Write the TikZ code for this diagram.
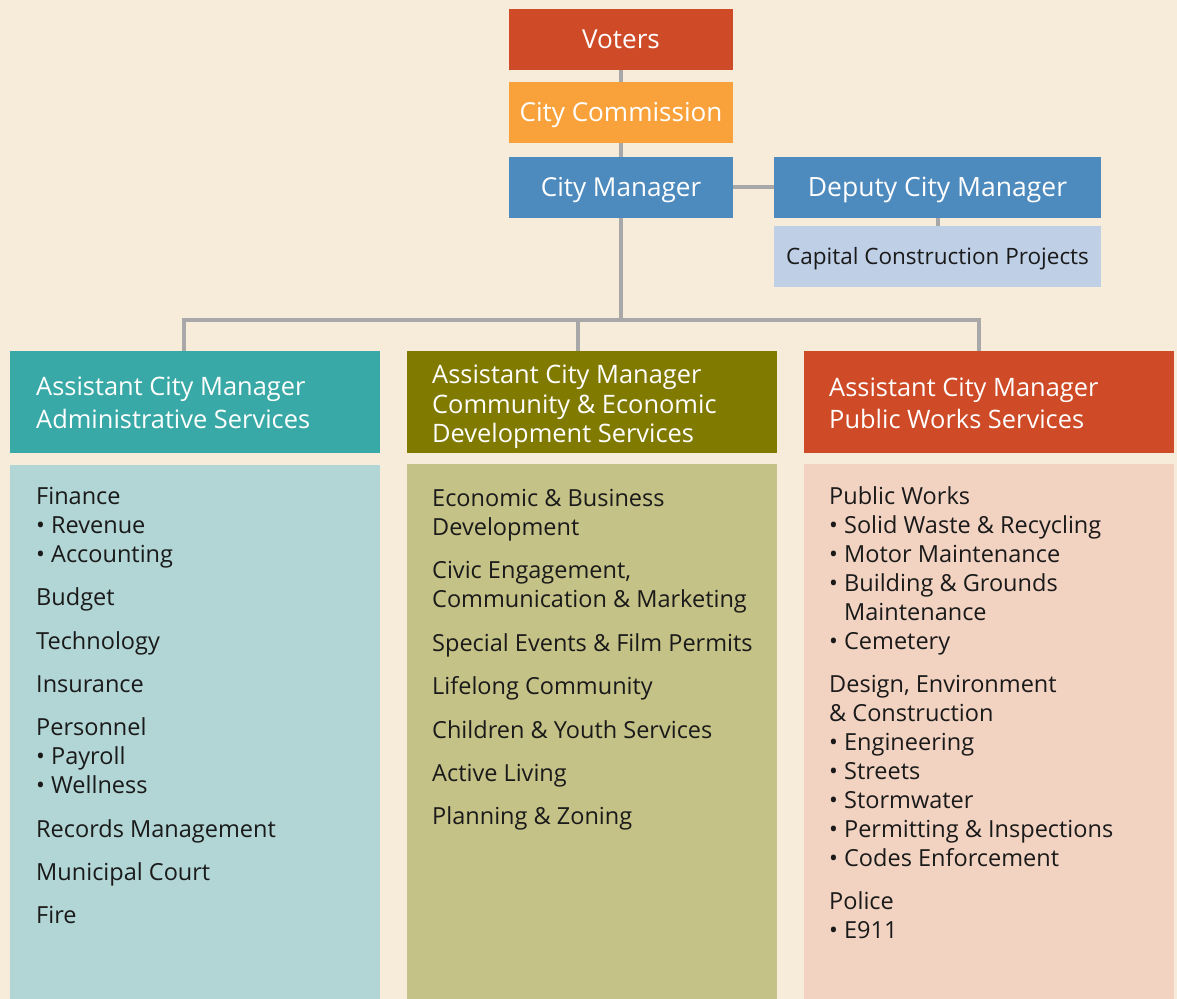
\documentclass[tikz,border=0pt]{standalone}
\usepackage{fontspec}
\setmainfont{Open Sans}
\definecolor{bgc}{HTML}{F6ECD9}
\definecolor{cred}{HTML}{CF4A27}
\definecolor{corange}{HTML}{F9A23B}
\definecolor{cblue}{HTML}{4D8ABE}
\definecolor{clblue}{HTML}{BFCFE6}
\definecolor{cteal}{HTML}{38A9A6}
\definecolor{clteal}{HTML}{B2D5D5}
\definecolor{colive}{HTML}{817A00}
\definecolor{clolive}{HTML}{C5C287}
\definecolor{cpeach}{HTML}{F2D3C2}
\definecolor{cline}{HTML}{A8A8A8}
\definecolor{ctext}{HTML}{1A1A1A}
\begin{document}
\begin{tikzpicture}[x=1bp,y=-1bp,
  topbox/.style={rectangle, inner sep=0pt, outer sep=0pt, minimum width=224bp, minimum height=61bp, text=white, text height=18.7bp, text depth=0pt, font=\fontsize{26.2}{30}\selectfont},
  headbox/.style={rectangle, inner sep=0pt, outer sep=0pt, minimum width=370bp, minimum height=102bp},
  headtext/.style={anchor=base west, inner sep=0pt, text=white, font=\fontsize{25.5}{30}\selectfont},
  bodybox/.style={rectangle, inner sep=0pt, outer sep=0pt, minimum width=370bp},
  item/.style={anchor=base west, inner sep=0pt, text=ctext, font=\fontsize{23.6}{29}\selectfont},
  conn/.style={draw=cline, line width=4bp}]
\fill[bgc] (0,0) rectangle (1177,999);
\useasboundingbox (0,0) rectangle (1177,999);

% top chain
\node[topbox, fill=cred] (voters) at (621,39.5) {Voters};
\node[topbox, fill=corange] (comm) at (621,112.5) {City Commission};
\node[topbox, fill=cblue] (cm) at (621,187) {City Manager};
\node[topbox, fill=cblue, minimum width=327bp, font=\fontsize{26.6}{30}\selectfont] (dcm) at (937.5,187) {Deputy City Manager};
\node[topbox, fill=clblue, minimum width=327bp, text=ctext, text height=16.2bp, font=\fontsize{22.6}{26}\selectfont] (ccp) at (937.5,256.5) {Capital Construction Projects};

% headings
\node[headbox, fill=cteal] (h1) at (195,402) {};
\node[headbox, fill=colive] (h2) at (592,402) {};
\node[headbox, fill=cred] (h3) at (989,402) {};
\node[headtext] (h1a) at (36,395) {Assistant City Manager};
\node[headtext] (h1b) at (36,428) {Administrative Services};
\node[headtext] (h2a) at (432,383) {Assistant City Manager};
\node[headtext] (h2b) at (432,413) {Community \& Economic};
\node[headtext] (h2c) at (432,442) {Development Services};
\node[headtext] (h3a) at (829,396) {Assistant City Manager};
\node[headtext] (h3b) at (829,428) {Public Works Services};

% bodies
\node[bodybox, fill=clteal, minimum height=534bp] (b1) at (195,732) {};
\node[bodybox, fill=clolive, minimum height=535bp] (b2) at (592,731.5) {};
\node[bodybox, fill=cpeach, minimum height=535bp] (b3) at (989,731.5) {};

% connectors
\coordinate (bus) at (620.5,320);
\draw[conn] (voters.south -| bus) -- (comm.north -| bus);
\draw[conn] (comm.south -| bus) -- (cm.north -| bus);
\draw[conn] (cm.east) -- (dcm.west);
\draw[conn] (dcm.south) -- (ccp.north);
\draw[conn] (cm.south -| bus) -- (bus);
\draw[conn] ([xshift=-11bp]h1.north) |- (bus) -| ([xshift=-10bp]h3.north);
\draw[conn] ([xshift=-14bp]h2.north) |- (bus);

% left column
\foreach \y/\t [count=\i] in {504/{Finance}, 533/{• Revenue}, 562/{• Accounting}, 605/{Budget}, 649/{Technology}, 692/{Insurance}, 735/{Personnel}, 764/{• Payroll}, 793/{• Wellness}, 837/{Records Management}, 880/{Municipal Court}, 923/{Fire}}
  \node[item] (l\i) at (36,\y) {\t};

% middle column
\foreach \y/\t [count=\i] in {506/{Economic \& Business}, 535/{Development}, 578/{Civic Engagement,}, 607/{Communication \& Marketing}, 651/{Special Events \& Film Permits}, 694/{Lifelong Community}, 738/{Children \& Youth Services}, 781/{Active Living}, 824/{Planning \& Zoning}}
  \node[item] (m\i) at (432,\y) {\t};

% right column
\foreach \y/\t [count=\i] in {504/{Public Works}, 533/{• Solid Waste \& Recycling}, 562/{• Motor Maintenance}, 591/{• Building \& Grounds}, 620/{\phantom{•} Maintenance}, 649/{• Cemetery}, 692/{Design, Environment}, 721/{\& Construction}, 750/{• Engineering}, 779/{• Streets}, 808/{• Stormwater}, 837/{• Permitting \& Inspections}, 866/{• Codes Enforcement}, 909/{Police}, 938/{• E911}}
  \node[item] (r\i) at (829,\y) {\t};
\end{tikzpicture}
\end{document}
